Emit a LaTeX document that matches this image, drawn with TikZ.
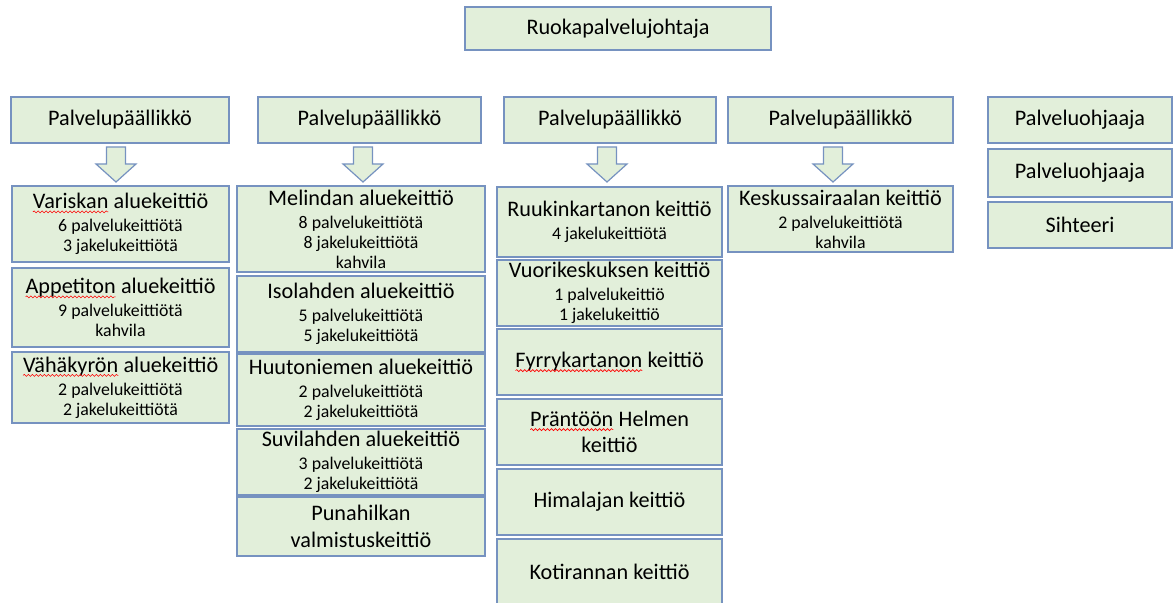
\documentclass[tikz,border=0pt]{standalone}
\usepackage{fontspec}
\setmainfont{Carlito}
\usetikzlibrary{decorations.pathmorphing}
\definecolor{boxfill}{RGB}{226,239,218}
\definecolor{boxline}{RGB}{118,146,192}
\newcommand\titlefont{\fontsize{11.1}{13.2}\selectfont}
\newcommand\subfont{\fontsize{8.9}{10}\selectfont}
% red spell-check wave under a word
\newcommand\spellerr[1]{\tikz[baseline=(w.base),x=1pt,y=1pt]{%
  \node[inner sep=0pt,outer sep=0pt,minimum width=0pt,minimum height=0pt,
    draw=none,fill=none,font=\titlefont] (w) {#1};
  \draw[red,line width=0.3pt,decorate,decoration={snake,amplitude=0.5pt,segment length=2pt}]
    ([yshift=-1.6pt]w.base west) -- ([yshift=-1.6pt]w.base east);}}

\begin{document}
\begin{tikzpicture}[x=0.5pt,y=-0.5pt,
  box/.style={draw=boxline,fill=boxfill,line width=0.6pt,inner sep=0pt,align=center,font=\titlefont},
  kitchen/.style={box,font=\subfont},
  downarrow/.style={draw=boxline,fill=boxfill,line width=0.6pt,line join=miter}]
\useasboundingbox (0,0) rectangle (1176,603);
\clip (0,0) rectangle (1176,603);
% top
\node[box,minimum width=153pt,minimum height=21.5pt] (johtaja) at (618,28.5) {Ruokapalvelujohtaja};
% heads
\node[box,minimum width=109pt,minimum height=23pt] (pp1) at (120,120) {Palvelupäällikkö};
\node[box,minimum width=111.5pt,minimum height=23pt] (pp2) at (369.5,120) {Palvelupäällikkö};
\node[box,minimum width=106pt,minimum height=23pt] (pp3) at (610,120) {Palvelupäällikkö};
\node[box,minimum width=112.5pt,minimum height=23pt] (pp4) at (840.5,120) {Palvelupäällikkö};
\node[box,minimum width=92pt,minimum height=23pt] (ohjaaja1) at (1080,120) {Palveluohjaaja};
\node[box,minimum width=92pt,minimum height=24pt] (ohjaaja2) at (1080,173) {Palveluohjaaja};
\node[box,minimum width=92pt,minimum height=23pt] (sihteeri) at (1080,225) {Sihteeri};
% arrows
\foreach \ax in {116,363,607,833}
  \draw[downarrow] (\ax-9.5,147) -- (\ax+9.5,147) -- (\ax+9.5,164) -- (\ax+20,164)
    -- (\ax,182) -- (\ax-20,164) -- (\ax-9.5,164) -- cycle;
% column 1
\node[kitchen,minimum width=108.5pt,minimum height=38pt] (variska) at (120.5,224) {{\titlefont\spellerr{Variskan} aluekeittiö}\\[1.5pt] 6 palvelukeittiötä\\ 3 jakelukeittiötä};
\node[kitchen,minimum width=108.5pt,minimum height=39.5pt] (appetit) at (120.5,307.5) {{\titlefont\spellerr{Appetiton} aluekeittiö}\\[1.5pt] 9 palvelukeittiötä\\ kahvila};
\node[kitchen,minimum width=108.5pt,minimum height=35.5pt] (vahakyro) at (120.5,387.5) {{\titlefont\spellerr{Vähäkyrön} aluekeittiö}\\[1.5pt] 2 palvelukeittiötä\\ 2 jakelukeittiötä};
% column 2
\node[kitchen,minimum width=124pt,minimum height=43pt] (melinda) at (361,229) {{\titlefont Melindan aluekeittiö}\\[1.5pt] 8 palvelukeittiötä\\ 8 jakelukeittiötä\\ kahvila};
\node[kitchen,minimum width=124pt,minimum height=38pt] (isolahti) at (361,314) {{\titlefont Isolahden aluekeittiö}\\[1.5pt] 5 palvelukeittiötä\\ 5 jakelukeittiötä};
\node[kitchen,minimum width=124pt,minimum height=36pt] (huutoniemi) at (361,390) {{\titlefont Huutoniemen aluekeittiö}\\[1.5pt] 2 palvelukeittiötä\\ 2 jakelukeittiötä};
\node[kitchen,minimum width=124pt,minimum height=33pt] (suvilahti) at (361,462) {{\titlefont Suvilahden aluekeittiö}\\[1.5pt] 3 palvelukeittiötä\\ 2 jakelukeittiötä};
\node[box,minimum width=124pt,minimum height=29.5pt] (punahilkka) at (361,526.5) {Punahilkan\\ valmistuskeittiö};
% column 3
\node[kitchen,minimum width=112.5pt,minimum height=35pt] (ruukki) at (609.5,222) {{\titlefont Ruukinkartanon keittiö}\\[1.5pt] 4 jakelukeittiötä};
\node[kitchen,minimum width=112.5pt,minimum height=33pt] (vuori) at (609.5,293) {{\titlefont Vuorikeskuksen keittiö}\\[1.5pt] 1 palvelukeittiö\\ 1 jakelukeittiö};
\node[box,minimum width=112.5pt,minimum height=33pt] (fyrry) at (609.5,362) {\spellerr{Fyrrykartanon} keittiö};
\node[box,minimum width=112.5pt,minimum height=33pt] (prantoo) at (609.5,432) {\spellerr{Präntöön} Helmen\\ keittiö};
\node[box,minimum width=112.5pt,minimum height=33pt] (himalaja) at (609.5,502) {Himalajan keittiö};
\node[box,minimum width=112.5pt,minimum height=33pt] (kotiranta) at (609.5,572) {Kotirannan keittiö};
% column 4
\node[kitchen,minimum width=112.5pt,minimum height=33pt] (keskus) at (840.5,219) {{\titlefont Keskussairaalan keittiö}\\[1.5pt] 2 palvelukeittiötä\\ kahvila};
\end{tikzpicture}
\end{document}
